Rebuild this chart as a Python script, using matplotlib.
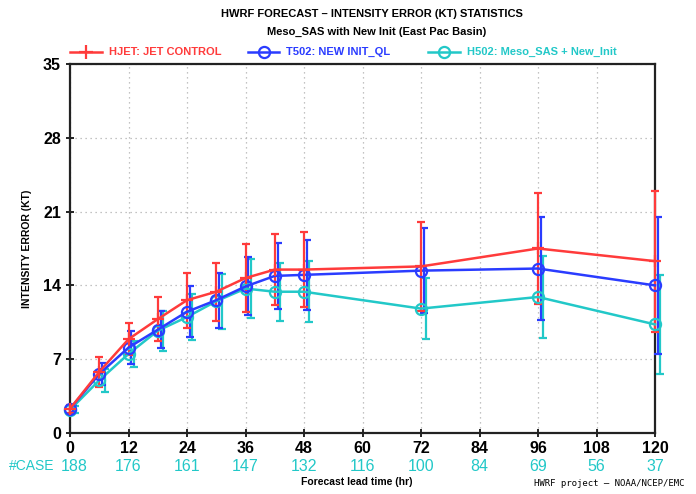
import matplotlib
matplotlib.use("Agg")
import matplotlib.pyplot as plt
import numpy as np

hours = [0, 6, 12, 18, 24, 30, 36, 42, 48, 72, 96, 120]
hjet = [2.3, 5.8, 8.9, 10.8, 12.6, 13.4, 14.7, 15.5, 15.5, 15.8, 17.5, 16.3]
hjet_err = [0.4, 1.4, 1.5, 2.1, 2.6, 2.75, 3.2, 3.4, 3.55, 4.25, 5.3, 6.7]
t502 = [2.3, 5.6, 8.1, 9.8, 11.5, 12.6, 13.9, 14.9, 15.0, 15.4, 15.6, 14.0]
t502_err = [0.35, 1.0, 1.55, 1.75, 2.4, 2.6, 2.75, 3.1, 3.3, 4.0, 4.9, 6.5]
h502 = [2.2, 5.0, 7.5, 9.7, 11.0, 12.5, 13.7, 13.4, 13.4, 11.8, 12.9, 10.3]
h502_err = [0.35, 1.1, 1.25, 1.9, 2.15, 2.6, 2.8, 2.75, 2.9, 2.9, 3.9, 4.7]

xticks = [0, 12, 24, 36, 48, 60, 72, 84, 96, 108, 120]
cases = [188, 176, 161, 147, 132, 116, 100, 84, 69, 56, 37]

RED = "#ff3b3b"
BLUE = "#2a3cff"
CYAN = "#22c8c8"

plt.rcParams['font.family'] = ['Liberation Sans', 'DejaVu Sans']

fig = plt.figure(figsize=(6.96, 4.94), dpi=100)
ax = fig.add_axes([70/696, 1-433/494, 585/696, (433-64)/494])

series = [
    (hjet, hjet_err, RED, '+', 0.0, "HJET: JET CONTROL"),
    (t502, t502_err, BLUE, 'o', 0.6, "T502: NEW INIT_QL"),
    (h502, h502_err, CYAN, 'o', 1.1, "H502: Meso_SAS + New_Init"),
]
x = np.array(hours, dtype=float)
for vals, errs, col, mk, off, lab in series[::-1]:
    cont = ax.errorbar(x + off, vals, yerr=errs, fmt='none', ecolor=col,
                       elinewidth=1.6, capsize=2.6, capthick=1.6, zorder=3)
    for child in cont.get_children():
        child.set_clip_on(False)
for vals, errs, col, mk, off, lab in series[::-1]:
    if mk == 'o':
        ax.plot(x, vals, color=col, lw=1.8, marker='o', ms=8,
                mfc='none', mec=col, mew=1.6, zorder=4, clip_on=False)
    else:
        ax.plot(x, vals, color=col, lw=1.8, marker='+', ms=9,
                mew=1.6, zorder=4, clip_on=False)

ax.set_xlim(0, 120)
ax.set_ylim(0, 35)
ax.set_xticks(xticks)
ax.set_yticks([0, 7, 14, 21, 28, 35])
ax.tick_params(direction='inout', length=6, width=1.2, labelsize=11.5)
ax.tick_params(axis='x', pad=3)
for lbl in ax.get_xticklabels() + ax.get_yticklabels():
    lbl.set_fontweight('bold')
ax.grid(True, linestyle=(0, (1, 3)), color='#b0b0b0', lw=0.9)
for s in ax.spines.values():
    s.set_linewidth(1.6)
    s.set_color('#222222')

ax.set_ylabel("INTENSITY ERROR (KT)", fontsize=7.5, fontweight='bold', labelpad=8)

# titles
fig.text(372/696, 1-14/494, "HWRF FORECAST \u2013 INTENSITY ERROR (KT) STATISTICS",
         ha='center', va='center', fontsize=8, fontweight='bold')
fig.text(377/696, 1-32/494, "Meso_SAS with New Init (East Pac Basin)",
         ha='center', va='center', fontsize=8, fontweight='bold')

# legend drawn manually in figure coords
leg_y = 1 - 52/494
legend_items = [(70, 102, RED, '+', "HJET: JET CONTROL"),
                (248, 279, BLUE, 'o', "T502: NEW INIT_QL"),
                (428, 460, CYAN, 'o', "H502: Meso_SAS + New_Init")]
for x0, x1, col, mk, lab in legend_items:
    xs = [x0/696, x1/696]
    fig.add_artist(plt.Line2D(xs, [leg_y, leg_y], color=col, lw=1.8,
                              transform=fig.transFigure))
    xm = (x0 + x1) / 2 / 696
    if mk == 'o':
        fig.add_artist(plt.Line2D([xm], [leg_y], marker='o', ms=8, mfc='none',
                                  mec=col, mew=1.6, transform=fig.transFigure))
    else:
        fig.add_artist(plt.Line2D([xm], [leg_y], marker='+', ms=10, mew=1.6,
                                  color=col, transform=fig.transFigure))
    fig.text((x1 + 7)/696, leg_y, lab, color=col, fontsize=8,
             fontweight='bold', ha='left', va='center')

# case counts
for i, (h, c) in enumerate(zip(xticks, cases)):
    xx = h + (0.8 if i == 0 else 0)
    ax.text(xx, -(466-433)/369, str(c), transform=ax.get_xaxis_transform(),
            ha='center', va='center', color=CYAN, fontsize=11.5)
fig.text(9/696, 1-466/494, "#CASE", color=CYAN, fontsize=10,
         ha='left', va='center')

fig.text(357/696, 1-482/494, "Forecast lead time (hr)", ha='center',
         va='center', fontsize=7.5, fontweight='bold')
fig.text(684/696, 1-483/494, "HWRF project \u2013 NOAA/NCEP/EMC", ha='right',
         va='center', fontsize=6.5, family=['DejaVu Sans Mono', 'DejaVu Sans'])

fig.savefig("out.png", dpi=100)
